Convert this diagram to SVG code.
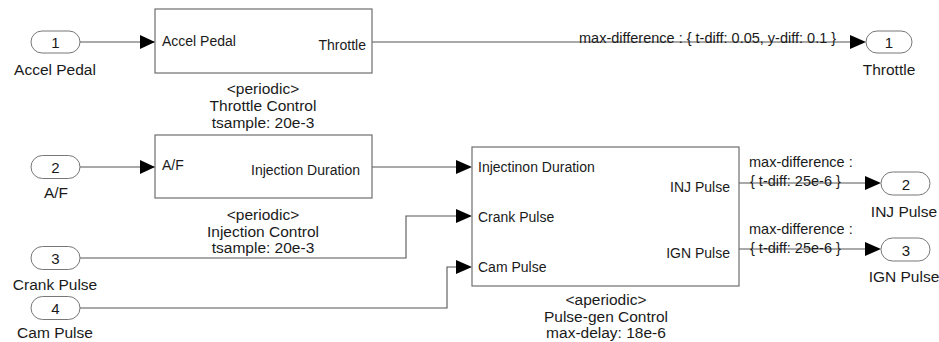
<svg xmlns="http://www.w3.org/2000/svg" width="939" height="342" viewBox="0 0 939 342">
<style>
text{font-family:"Liberation Sans",Arial,sans-serif;fill:#1a1a1a}
.blk{fill:#fff;stroke:#6e6e6e;stroke-width:1.2}
.port{fill:#fff;stroke:#777;stroke-width:1}
.w{fill:none;stroke:#555;stroke-width:1.1}
.ah{fill:#000}
.in{font-size:14px}
.cap{font-size:15.5px;text-anchor:middle}
.num{font-size:15px;text-anchor:middle}
.lbl{font-size:14.5px}
.r{text-anchor:end}
</style>
<rect width="939" height="342" fill="#fff"/>
<g id="connectors">
<path class="w" d="M80 42H850"/>
<polygon class="ah" points="850,35 866,42 850,49"/>
<path class="w" d="M80 167H456"/>
<polygon class="ah" points="140,160 155,167 140,174"/>
<polygon class="ah" points="140,35 155,42 140,49"/>
<polygon class="ah" points="456,160 472,167 456,174"/>
<path class="w" d="M80 258H406V216H456"/>
<polygon class="ah" points="456,209 472,216 456,223"/>
<path class="w" d="M80 308H447V267H456"/>
<polygon class="ah" points="456,260 472,267 456,274"/>
<path class="w" d="M739 183H865"/>
<polygon class="ah" points="865,176 881,183 865,190"/>
<path class="w" d="M739 249H865"/>
<polygon class="ah" points="865,242 881,249 865,256"/>
<text class="lbl" x="579" y="43">max-difference : { t-diff: 0.05, y-diff: 0.1 }</text>
<text class="lbl" x="749" y="167">max-difference :</text>
<text class="lbl" x="750" y="186">{ t-diff: 25e-6 }</text>
<text class="lbl" x="749" y="234">max-difference :</text>
<text class="lbl" x="750" y="253">{ t-diff: 25e-6 }</text>
</g>
<g id="in1">
<rect class="port" x="31" y="31" width="49" height="22" rx="11"/>
<text class="num" x="55.5" y="48">1</text>
<text class="cap" x="55" y="75">Accel Pedal</text>
</g>
<g id="in2">
<rect class="port" x="31" y="155.5" width="49" height="23" rx="11.5"/>
<text class="num" x="55.5" y="173">2</text>
<text class="cap" x="56" y="198">A/F</text>
</g>
<g id="in3">
<rect class="port" x="31" y="246.5" width="49" height="23" rx="11.5"/>
<text class="num" x="55.5" y="264">3</text>
<text class="cap" x="55" y="290">Crank Pulse</text>
</g>
<g id="in4">
<rect class="port" x="31" y="296.5" width="49" height="23" rx="11.5"/>
<text class="num" x="55.5" y="314">4</text>
<text class="cap" x="55" y="338">Cam Pulse</text>
</g>
<g id="throttle-control">
<rect class="blk" x="155" y="9" width="217" height="64"/>
<text class="in" x="162" y="46">Accel Pedal</text>
<text class="in r" x="366" y="50">Throttle</text>
<text class="cap" x="263" y="94">&lt;periodic&gt;</text>
<text class="cap" x="263" y="111">Throttle Control</text>
<text class="cap" x="263" y="128">tsample: 20e-3</text>
</g>
<g id="injection-control">
<rect class="blk" x="155" y="135" width="217" height="63"/>
<text class="in" x="162" y="170">A/F</text>
<text class="in r" x="360" y="175">Injection Duration</text>
<text class="cap" x="263" y="220">&lt;periodic&gt;</text>
<text class="cap" x="263" y="237">Injection Control</text>
<text class="cap" x="263" y="253">tsample: 20e-3</text>
</g>
<g id="pulse-gen-control">
<rect class="blk" x="472" y="147" width="267" height="139"/>
<text class="in" x="478" y="172">Injectinon Duration</text>
<text class="in" x="478" y="222">Crank Pulse</text>
<text class="in" x="478" y="272">Cam Pulse</text>
<text class="in r" x="730" y="192">INJ Pulse</text>
<text class="in r" x="730" y="258">IGN Pulse</text>
<text class="cap" x="606" y="305">&lt;aperiodic&gt;</text>
<text class="cap" x="606" y="322">Pulse-gen Control</text>
<text class="cap" x="606" y="338">max-delay: 18e-6</text>
</g>
<g id="out1">
<rect class="port" x="866" y="31" width="46" height="22" rx="11"/>
<text class="num" x="889" y="48">1</text>
<text class="cap" x="889" y="75">Throttle</text>
</g>
<g id="out2">
<rect class="port" x="881" y="172" width="49" height="23" rx="11.5"/>
<text class="num" x="906" y="190">2</text>
<text class="cap" x="904" y="217">INJ Pulse</text>
</g>
<g id="out3">
<rect class="port" x="881" y="238" width="49" height="23" rx="11.5"/>
<text class="num" x="906" y="256">3</text>
<text class="cap" x="904" y="282">IGN Pulse</text>
</g>
</svg>
